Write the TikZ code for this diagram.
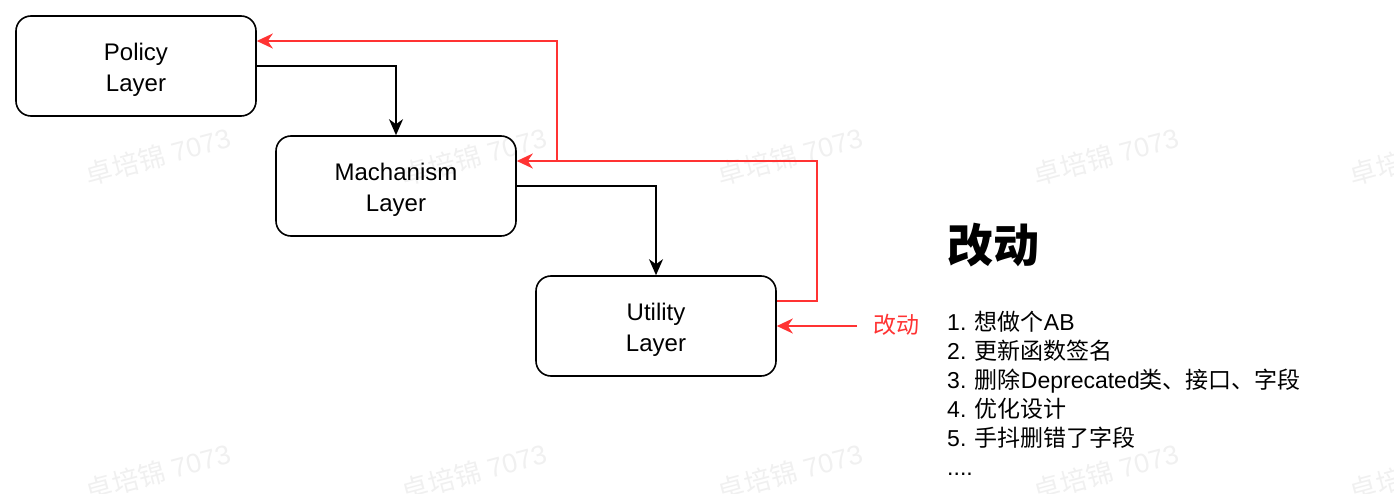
\documentclass[tikz,border=0pt]{standalone}
\usepackage{fontspec}
\setmainfont{Liberation Sans}
\newfontfamily\cjk{Noto Sans CJK SC}
\usetikzlibrary{arrows.meta}
\definecolor{changered}{HTML}{FF3333}
\definecolor{markgray}{HTML}{F0F0F0}
\newcommand\listdots{....}
\tikzset{
  layerbox/.style={draw,line width=1.6pt,rounded corners=15pt,minimum width=240pt,
    minimum height=100pt,align=center,font=\fontsize{24}{31}\selectfont,
    text height=56pt,text depth=5pt},
  flowarrow/.style={draw,line width=1.6pt,-{Stealth[length=16pt,width=14pt,inset=5pt]}},
  backarrow/.style={draw=changered,line width=1.5pt,-{Stealth[length=16pt,width=15pt,inset=5pt]}},
  watermark/.style={text=markgray,rotate=15,font=\fontsize{27}{27}\selectfont},
}
\begin{document}
\begin{tikzpicture}[x=1pt,y=-1pt]
\useasboundingbox (0,0) rectangle (1394,494);
% watermarks
\foreach \wx in {158,474,790,1106,1422}
  \foreach \wy in {156,472}
    \node[watermark] (mark-\wx-\wy) at (\wx,\wy) {{\cjk 卓培锦} 7073};
% layers
\node[layerbox] (policy) at (136,66) {Policy\\Layer};
\node[layerbox] (mach) at (396,186) {Machanism\\Layer};
\node[layerbox] (util) at (656,326) {Utility\\Layer};
\draw[flowarrow] (policy.east) -| (mach.north);
\draw[flowarrow] (mach.east) -| (util.north);
% change goes back up
\coordinate (turn) at (817,161);
\coordinate (split) at (557,161);
\draw[backarrow] ([yshift=25pt]util.east) -| (turn) -- ([yshift=25pt]mach.east);
\draw[backarrow] (split) |- ([yshift=25pt]policy.east);
\node[anchor=base west,inner sep=0,text=changered,font=\fontsize{23}{23}\selectfont\cjk]
  (chg) at (873,333) {改动};
\draw[backarrow] ([xshift=-16pt]chg.west |- util.east) -- (util.east);
% list of changes
\node[anchor=base west,inner sep=0,font=\fontsize{46}{46}\selectfont\bfseries\cjk]
  (title) at (947,263) {改动};
\foreach \txt [count=\i from 0] in {%
  {1. {\cjk 想做个}AB},
  {2. {\cjk 更新函数签名}},
  {3. {\cjk 删除}Deprecated{\cjk 类、接口、字段}},
  {4. {\cjk 优化设计}},
  {5. {\cjk 手抖删错了字段}},
  {\listdots}}
  \node[anchor=base west,inner sep=0,font=\fontsize{23}{23}\selectfont]
    (item\i) at (947,{330+29*\i}) {\txt};
\end{tikzpicture}
\end{document}
